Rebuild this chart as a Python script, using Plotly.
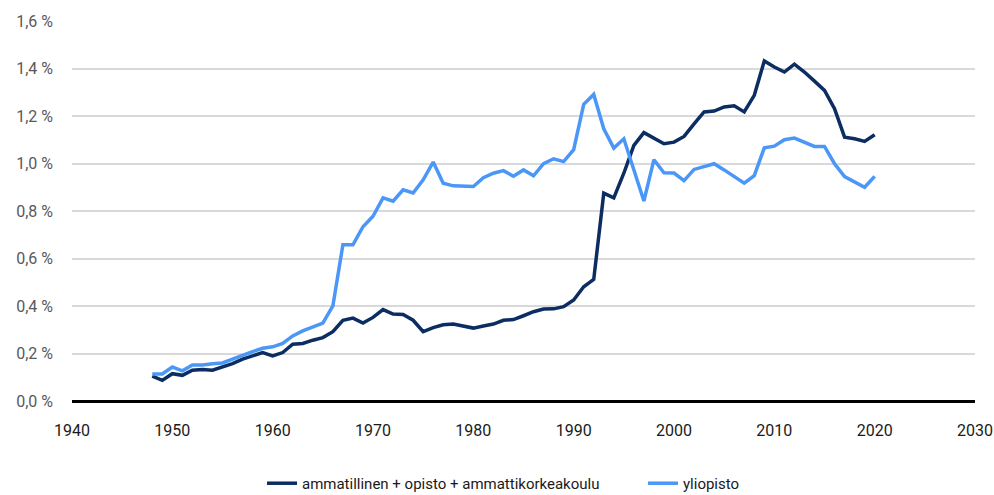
import plotly.graph_objects as go

years = list(range(1948, 2021))

# ammatillinen + opisto + ammattikorkeakoulu
amm = [0.105, 0.087, 0.115, 0.108, 0.130, 0.133, 0.130, 0.143, 0.157, 0.176,
       0.190, 0.204, 0.190, 0.204, 0.239, 0.242, 0.256, 0.267, 0.292, 0.340,
       0.349, 0.328, 0.352, 0.385, 0.366, 0.364, 0.340, 0.292, 0.309, 0.321,
       0.324, 0.314, 0.307, 0.316, 0.324, 0.340, 0.343, 0.359, 0.376, 0.387,
       0.388, 0.397, 0.425, 0.481, 0.512, 0.875, 0.855, 0.959, 1.076, 1.130,
       1.108, 1.083, 1.090, 1.114, 1.167, 1.217, 1.221, 1.238, 1.243, 1.217,
       1.287, 1.432, 1.406, 1.385, 1.418, 1.385, 1.347, 1.308, 1.231, 1.111,
       1.104, 1.093, 1.121]

# yliopisto
yo = [0.114, 0.114, 0.143, 0.127, 0.152, 0.152, 0.157, 0.160, 0.176, 0.194,
      0.208, 0.222, 0.228, 0.242, 0.274, 0.295, 0.313, 0.328, 0.400, 0.658,
      0.658, 0.734, 0.778, 0.855, 0.841, 0.889, 0.876, 0.931, 1.006, 0.917,
      0.906, 0.903, 0.903, 0.940, 0.959, 0.970, 0.946, 0.973, 0.948, 0.999,
      1.020, 1.008, 1.058, 1.249, 1.291, 1.146, 1.065, 1.104, 0.970, 0.842,
      1.016, 0.961, 0.960, 0.928, 0.975, 0.987, 0.999, 0.973, 0.945, 0.917,
      0.949, 1.066, 1.073, 1.100, 1.107, 1.090, 1.072, 1.072, 0.999, 0.945,
      0.921, 0.900, 0.946]

y_ticks = [0, 0.2, 0.4, 0.6, 0.8, 1.0, 1.2, 1.4, 1.6]
y_labels = ["0,0 %", "0,2 %", "0,4 %", "0,6 %", "0,8 %", "1,0 %", "1,2 %", "1,4 %", "1,6 %"]

font = "Roboto, Liberation Sans, sans-serif"

fig = go.Figure()
fig.add_trace(go.Scatter(x=years, y=amm, mode="lines",
                         name="ammatillinen + opisto + ammattikorkeakoulu",
                         line=dict(color="#0b2d62", width=3.5)))
fig.add_trace(go.Scatter(x=years, y=yo, mode="lines", name="yliopisto",
                         line=dict(color="#4a97f8", width=3.5)))

fig.update_layout(
    width=994, height=495,
    margin=dict(l=72, r=19, t=21, b=94, autoexpand=False),
    paper_bgcolor="white", plot_bgcolor="white",
    font=dict(family=font, size=16, color="#1a1a1a"),
    legend=dict(orientation="h", x=0.2104, xanchor="left", y=-0.217, yanchor="middle",
                entrywidth=336, entrywidthmode="pixels",
                font=dict(size=15, color="#1a1a1a")),
    xaxis=dict(range=[1940, 2030], dtick=10, tick0=1940, showgrid=False,
               zeroline=False, showline=False, ticks="", ticklabelstandoff=18,
               tickfont=dict(size=16, color="#1a1a1a")),
    yaxis=dict(range=[0, 1.6], tickvals=y_ticks, ticktext=y_labels,
               showgrid=True, gridcolor="#d9d9d9", gridwidth=1.5,
               zeroline=True, zerolinecolor="#000000", zerolinewidth=3,
               showline=False, ticks="", ticklabelstandoff=18,
               tickfont=dict(size=16, color="#595959")),
)

# page body has a default 8px margin; drop it so the figure sits at the corner
fig.write_html("out.html", config={"displayModeBar": False},
               post_script="document.body.style.margin='0';")
